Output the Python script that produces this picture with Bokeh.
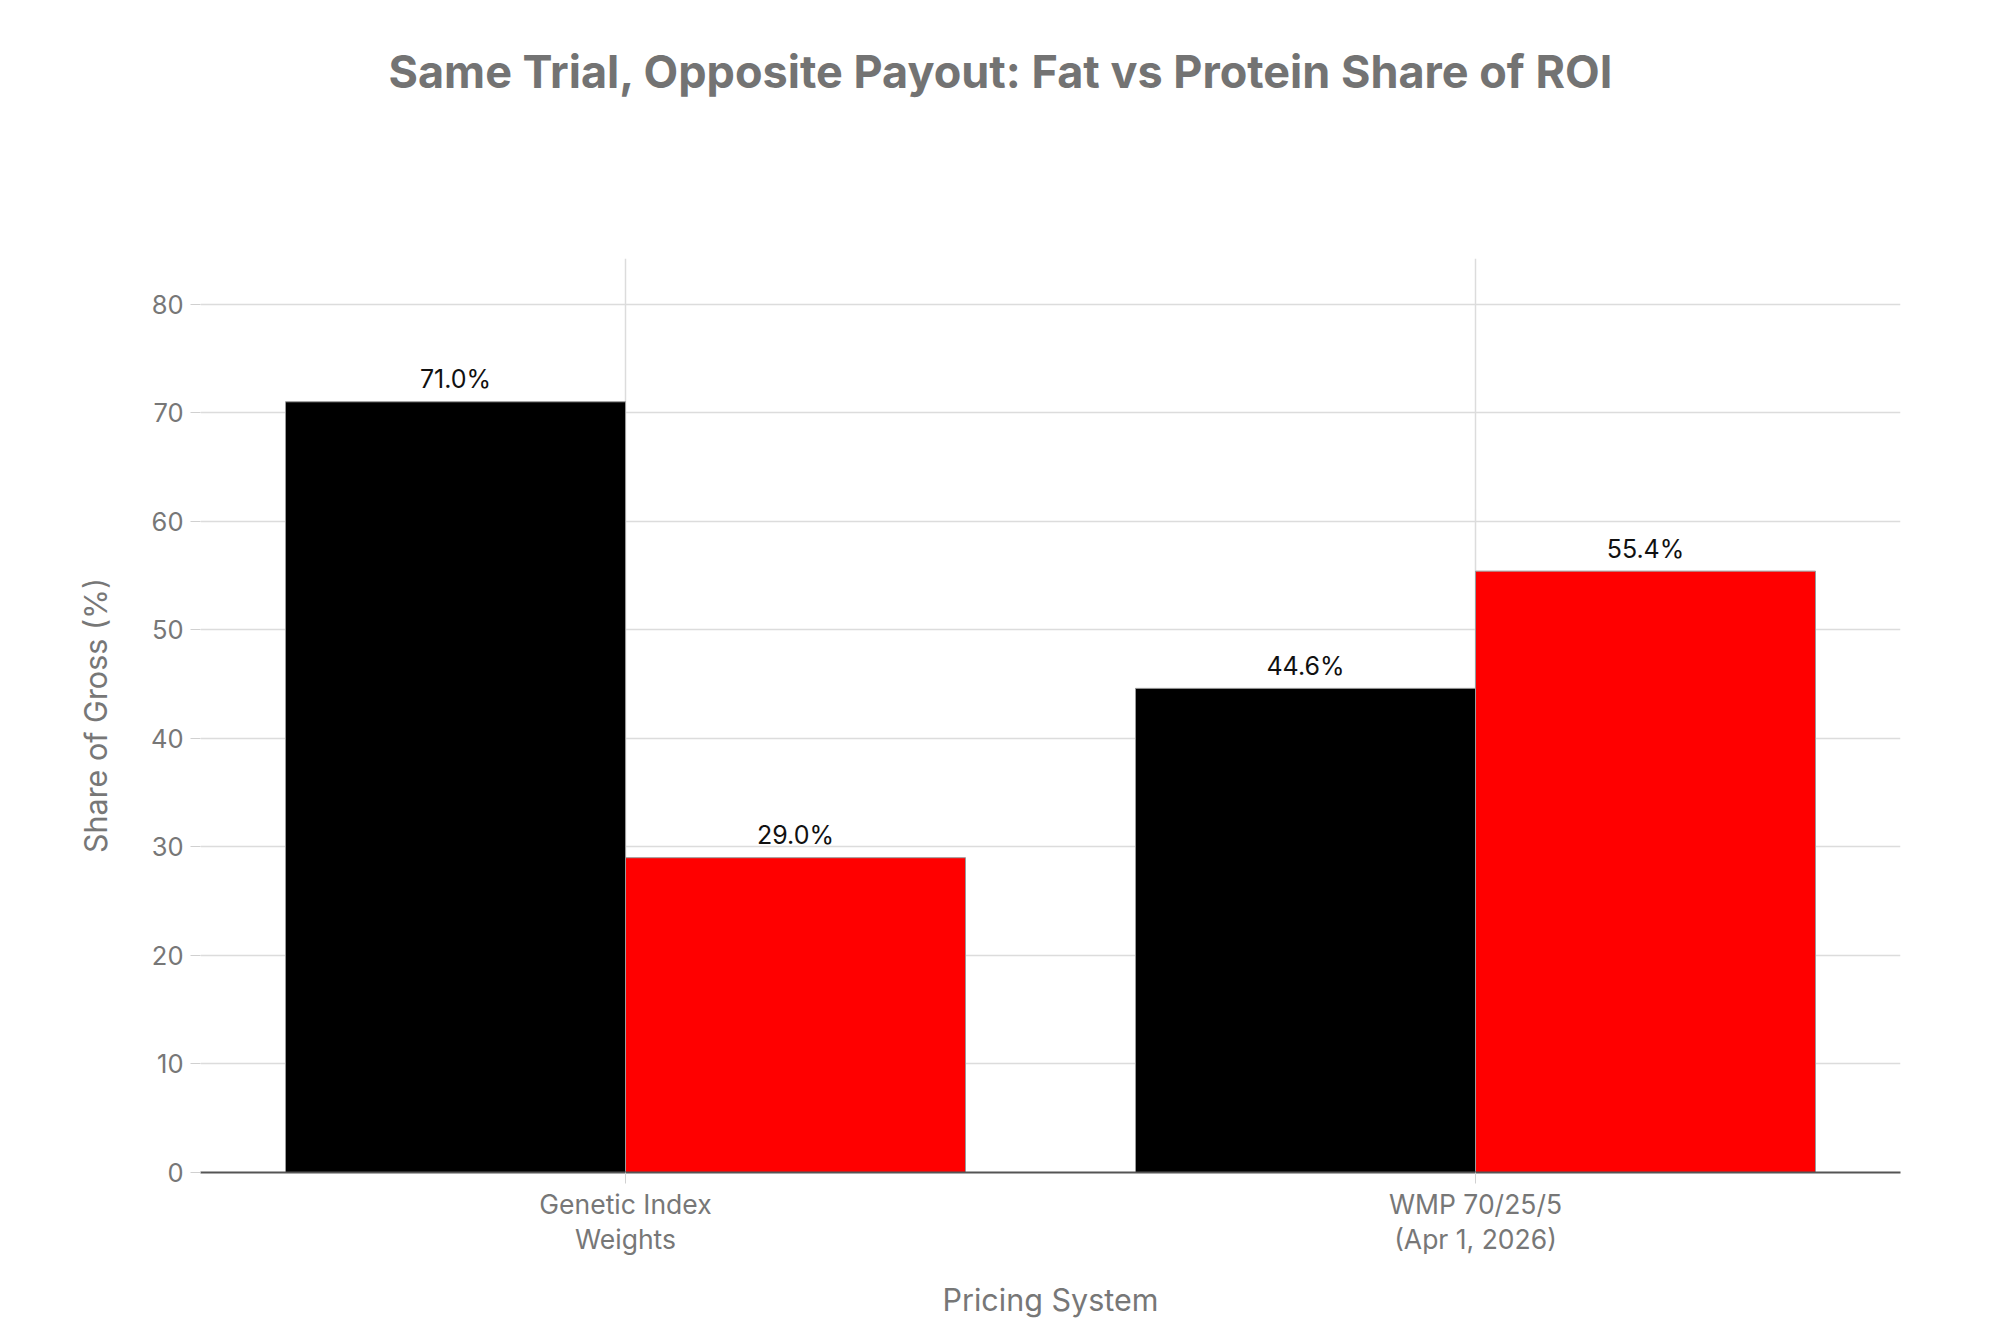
from bokeh.plotting import figure
from bokeh.models import ColumnDataSource, FactorRange, Range1d, Title
from bokeh.transform import dodge
from bokeh.embed import file_html
from bokeh.resources import INLINE
from bokeh.core.properties import value

categories = ["Genetic Index\nWeights", "WMP 70/25/5\n(Apr 1, 2026)"]
fat_share = [71.0, 44.6]
protein_share = [29.0, 55.4]
y_ticks = [0, 10, 20, 30, 40, 50, 60, 70, 80]
title_text = "Same Trial, Opposite Payout: Fat vs Protein Share of ROI"

FONT = "Inter"
GREY = "#777777"

src = ColumnDataSource(dict(
    cat=categories,
    fat=fat_share,
    protein=protein_share,
    fat_lbl=[f"{v:.1f}%" for v in fat_share],
    protein_lbl=[f"{v:.1f}%" for v in protein_share],
))

W, H = 1984, 1325
ML, MR, MT, MB = 200, 84, 258, 153
p = figure(width=W, height=H, x_range=FactorRange(factors=categories),
           y_range=Range1d(0, 84.2), output_backend="svg", toolbar_location=None,
           min_border_left=ML, min_border_right=MR, min_border_top=MT,
           min_border_bottom=MB, title=title_text)
p.outline_line_color = None
p.background_fill_color = "white"

# main title (outermost panel above the frame)
p.title.align = "left"
p.title.offset = 188
p.title.standoff = 0
p.title.text_font = FONT
p.title.text_font_size = "45px"
p.title.text_font_style = "bold"
p.title.text_color = "#737373"

# empty spacer between the title and the plot area
p.add_layout(Title(text=" ", text_font_size="1px", standoff=157), "above")

p.vbar(x=dodge("cat", -0.2, range=p.x_range), top="fat", width=0.4, source=src,
       fill_color="#000000", line_color="#9a9a9a", line_width=1)
p.vbar(x=dodge("cat", 0.2, range=p.x_range), top="protein", width=0.4, source=src,
       fill_color="#ff0000", line_color="#9a9a9a", line_width=1)

p.text(x=dodge("cat", -0.2, range=p.x_range), y="fat", text="fat_lbl", source=src,
       text_align="center", text_baseline="bottom", y_offset=-7.5,
       text_font=value(FONT), text_font_size="25px", text_color="#111111")
p.text(x=dodge("cat", 0.2, range=p.x_range), y="protein", text="protein_lbl", source=src,
       text_align="center", text_baseline="bottom", y_offset=-7.5,
       text_font=value(FONT), text_font_size="25px", text_color="#111111")

# grids
p.ygrid.ticker = y_ticks
p.ygrid.grid_line_color = "#dcdcdc"
p.ygrid.grid_line_width = 1.5
p.xgrid.grid_line_color = "#dcdcdc"
p.xgrid.grid_line_width = 1.5

# y axis
p.yaxis.ticker = y_ticks
p.yaxis.axis_line_color = None
p.yaxis.major_tick_in = 0
p.yaxis.major_tick_out = 10
p.yaxis.major_tick_line_color = "#d0d0d0"
p.yaxis.minor_tick_line_color = None
p.yaxis.major_label_text_font = FONT
p.yaxis.major_label_text_font_size = "25.5px"
p.yaxis.major_label_text_color = GREY
p.yaxis.major_label_standoff = 7
p.yaxis.axis_label = "Share of Gross (%)"
p.yaxis.axis_label_text_font = FONT
p.yaxis.axis_label_text_font_size = "30.5px"
p.yaxis.axis_label_text_font_style = "normal"
p.yaxis.axis_label_text_color = GREY
p.yaxis.axis_label_standoff = 34

# x axis
p.xaxis.axis_line_color = "#555555"
p.xaxis.axis_line_width = 2
p.xaxis.major_tick_in = 0
p.xaxis.major_tick_out = 11
p.xaxis.major_tick_line_color = "#d0d0d0"
p.xaxis.minor_tick_line_color = None
p.xaxis.major_label_text_font = FONT
p.xaxis.major_label_text_font_size = "26.5px"
p.xaxis.major_label_text_color = GREY
p.xaxis.major_label_text_line_height = 1.12
p.xaxis.major_label_standoff = 4
p.xaxis.axis_label = "Pricing System"
p.xaxis.axis_label_text_font = FONT
p.xaxis.axis_label_text_font_size = "30.5px"
p.xaxis.axis_label_text_font_style = "normal"
p.xaxis.axis_label_text_color = GREY
p.xaxis.axis_label_standoff = 23

open("out.html", "w").write(file_html(p, INLINE))
